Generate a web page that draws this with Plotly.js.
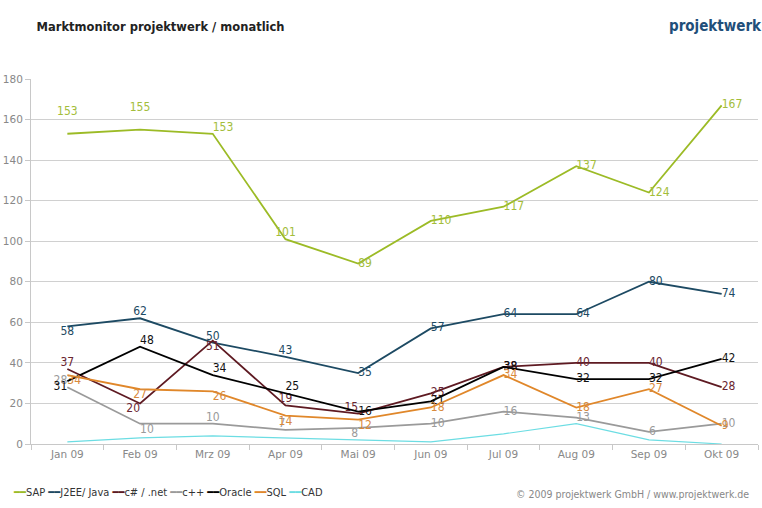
<!DOCTYPE html>
<html>
<head>
<meta charset="utf-8">
<script src="https://cdn.plot.ly/plotly-3.0.1.min.js"></script>
<style>html,body{margin:0;padding:0;background:#fff;}#chart{width:762px;height:508px;}</style>
</head>
<body>
<div id="chart"></div>
<script>
const months = ["Jan 09","Feb 09","Mrz 09","Apr 09","Mai 09","Jun 09","Jul 09","Aug 09","Sep 09","Okt 09"];
const sap    = [153,155,153,101,89,110,117,137,124,167];
const j2ee   = [58,62,50,43,35,57,64,64,80,74];
const csharp = [37,20,51,19,15,25,38,40,40,28];
const cpp    = [28,10,10,7,8,10,16,13,6,10];
const oracle = [31,48,34,25,16,21,38,32,32,42];
const sql    = [34,27,26,14,12,18,34,18,27,9];
const cad    = [1,3,4,3,2,1,5,10,2,0];

const seriesNames = ["SAP","J2EE/ Java","c# / .net","c++","Oracle","SQL","CAD"];
const lineColors = ["#9cbb26","#1d4a63","#5e1a22","#9a9a9a","#000000","#e0872a","#6cdde3"];
const textColors = ["#a3bd3a","#1d4a63","#6a2530","#9a9a9a","#111111","#d98a3c","#6cdde3"];

const R = "middle right";
const pos = [
  ["top center","top center","top right","top center",R,R,R,R,R,R],
  ["bottom center","top center","top center","top center",R,R,R,R,R,R],
  ["top center","bottom left","bottom center","top center","top left",R,R,R,R,R],
  ["top left","bottom right","top center","top left","bottom left",R,R,R,R,R],
  ["bottom left","top right","top right","top right",R,R,R,R,R,R],
  ["bottom right","bottom center","bottom right","bottom center","bottom right",R,R,R,R,R],
  null
];
// labels that sit a full line higher above their point in the reference
const raised = [[0,1],[],[],[],[],[],[]];
const data = [sap,j2ee,csharp,cpp,oracle,sql,cad];
const labelFont = "DejaVu Sans Condensed, DejaVu Sans";

const traces = data.map((vals,i)=>({
  type:"scatter",
  x: months, y: vals, name: seriesNames[i],
  mode: i===6 ? "lines" : "lines+text",
  text: i===6 ? undefined : vals.map((v,k)=> raised[i].includes(k) ? v+"<br> " : String(v)),
  textposition: pos[i] || undefined,
  textfont: {family:labelFont, size:12, color:textColors[i]},
  line: {color:lineColors[i], width: i===6 ? 1.2 : 1.8},
  cliponaxis:false,
  showlegend:false,
  hoverinfo:"skip"
}));

// legend drawn as a single text line built from the series names and colours
const legendText = seriesNames.map((n,i)=>
  '<span style="color:'+lineColors[i]+'">━━</span>'+n).join(' ');

const layout = {
  width:762, height:508,
  margin:{l:31,r:4,t:79,b:64},
  paper_bgcolor:"#fff", plot_bgcolor:"#fff",
  font:{family:"DejaVu Sans", color:"#888"},
  title:{text:"<b>Marktmonitor projektwerk / monatlich</b>", x:0.048, xanchor:"left", y:0.947, yanchor:"middle",
         font:{family:"DejaVu Sans", size:11.5, color:"#222"}},
  xaxis:{type:"category", range:[-0.5,9.5], showgrid:false, showline:true, linecolor:"#c8c8c8", linewidth:1,
         ticks:"outside", tickson:"boundaries", ticklen:5, tickcolor:"#c8c8c8",
         tickfont:{family:"DejaVu Sans", size:10.5, color:"#888"}, fixedrange:true},
  yaxis:{range:[0,180], dtick:20, showgrid:true, gridcolor:"#d0d0d0", gridwidth:1, showline:true, linecolor:"#c8c8c8",
         ticks:"outside", ticklen:5, tickcolor:"#c8c8c8", zeroline:false,
         tickfont:{family:"DejaVu Sans", size:10.5, color:"#888"}, fixedrange:true},
  showlegend:false,
  annotations:[
    {text:"<b>projektwerk</b>", xref:"paper", yref:"paper", x:1.008, xanchor:"right", y:1.145, yanchor:"middle",
     showarrow:false, font:{family:"DejaVu Sans Condensed, DejaVu Sans", size:15, color:"#1f4f7a"}},
    {text:legendText, xref:"paper", yref:"paper", x:-0.027, xanchor:"left", y:-0.132, yanchor:"middle",
     showarrow:false, font:{family:"DejaVu Sans Condensed, DejaVu Sans", size:11, color:"#333"}},
    {text:"© 2009 projektwerk GmbH / www.projektwerk.de", xref:"paper", yref:"paper", x:0.99, xanchor:"right",
     y:-0.137, yanchor:"middle", showarrow:false, font:{family:"DejaVu Sans Condensed, DejaVu Sans", size:10.5, color:"#888"}}
  ]
};
Plotly.newPlot("chart", traces, layout, {staticPlot:true});
</script>
</body>
</html>
